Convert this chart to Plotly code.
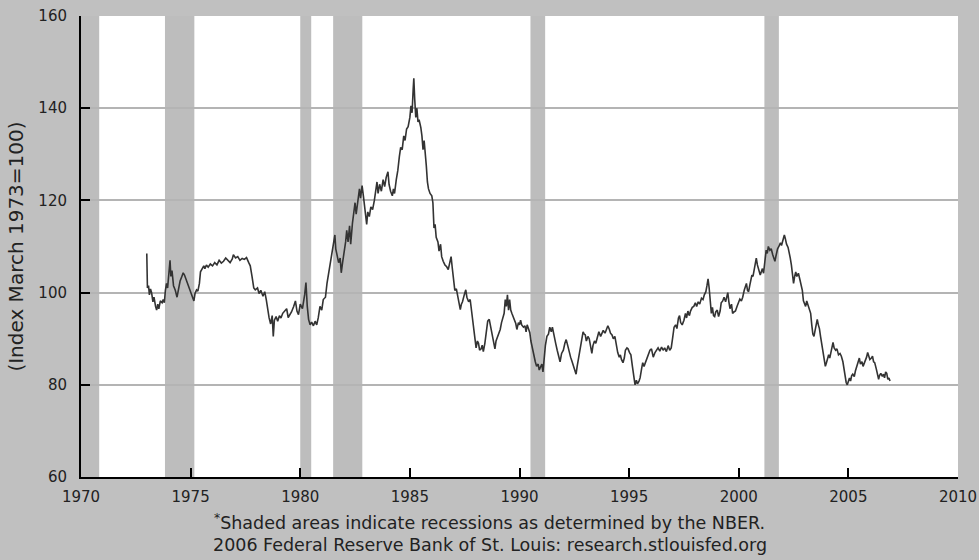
import plotly.graph_objects as go

# ---- data ----
years = [
1973.0,1973.03,1973.08,1973.12,1973.17,1973.22,1973.28,1973.33,1973.4,1973.45,1973.5,1973.55,1973.62,1973.7,1973.75,1973.8,1973.85,1973.9,1973.95,
1974.02,1974.06,1974.1,1974.15,1974.22,1974.3,1974.38,1974.45,1974.52,1974.6,1974.66,1974.72,1974.8,1974.88,1974.95,
1975.02,1975.1,1975.15,1975.2,1975.27,1975.33,1975.4,1975.45,1975.52,1975.6,1975.65,1975.72,1975.8,1975.9,
1976.0,1976.1,1976.2,1976.3,1976.4,1976.5,1976.6,1976.7,1976.8,1976.9,1976.95,
1977.05,1977.15,1977.25,1977.35,1977.45,1977.55,1977.65,1977.72,1977.8,1977.88,1977.95,
1978.05,1978.12,1978.2,1978.3,1978.38,1978.45,1978.5,1978.58,1978.65,1978.72,1978.77,1978.82,1978.9,1978.97,
1979.05,1979.12,1979.2,1979.3,1979.38,1979.45,1979.52,1979.6,1979.7,1979.78,1979.85,1979.92,
1980.0,1980.1,1980.2,1980.26,1980.32,1980.38,1980.45,1980.52,1980.6,1980.68,1980.75,1980.82,1980.9,1980.98,
1981.05,1981.15,1981.22,1981.3,1981.38,1981.45,1981.52,1981.58,1981.62,1981.68,1981.75,1981.82,1981.87,1981.93,
1982.0,1982.07,1982.12,1982.18,1982.25,1982.3,1982.38,1982.45,1982.5,1982.55,1982.62,1982.7,1982.75,1982.82,1982.88,1982.95,
1983.03,1983.08,1983.15,1983.22,1983.3,1983.38,1983.45,1983.5,1983.55,1983.62,1983.7,1983.78,1983.85,1983.92,
1984.0,1984.05,1984.12,1984.2,1984.25,1984.3,1984.38,1984.45,1984.52,1984.58,1984.65,1984.72,1984.78,1984.85,1984.92,
1985.0,1985.05,1985.1,1985.15,1985.18,1985.22,1985.27,1985.32,1985.37,1985.42,1985.5,1985.55,1985.6,1985.65,1985.7,1985.75,1985.8,1985.85,1985.92,
1986.0,1986.05,1986.1,1986.15,1986.2,1986.28,1986.33,1986.4,1986.45,1986.52,1986.6,1986.68,1986.75,1986.82,1986.88,1986.93,
1987.0,1987.05,1987.12,1987.18,1987.25,1987.3,1987.35,1987.4,1987.48,1987.55,1987.6,1987.68,1987.75,1987.82,1987.9,1987.96,
1988.02,1988.08,1988.13,1988.18,1988.25,1988.3,1988.35,1988.42,1988.48,1988.55,1988.62,1988.68,1988.75,1988.82,1988.88,1988.93,
1989.0,1989.05,1989.12,1989.18,1989.25,1989.3,1989.35,1989.4,1989.45,1989.5,1989.55,1989.6,1989.65,1989.72,1989.78,1989.83,1989.88,1989.95,
1990.0,1990.05,1990.1,1990.18,1990.25,1990.3,1990.35,1990.4,1990.47,1990.52,1990.58,1990.65,1990.72,1990.78,1990.85,1990.9,1990.95,
1991.02,1991.07,1991.12,1991.18,1991.25,1991.32,1991.38,1991.45,1991.5,1991.55,1991.6,1991.65,1991.72,1991.78,1991.85,1991.92,
1992.0,1992.07,1992.13,1992.2,1992.27,1992.33,1992.4,1992.45,1992.52,1992.58,1992.63,1992.7,1992.78,1992.83,1992.9,1992.95,
1993.0,1993.05,1993.12,1993.18,1993.25,1993.3,1993.35,1993.42,1993.48,1993.55,1993.62,1993.7,1993.75,1993.82,1993.9,1993.97,
1994.03,1994.1,1994.15,1994.22,1994.28,1994.35,1994.42,1994.48,1994.55,1994.6,1994.65,1994.72,1994.78,1994.83,1994.9,1994.95,
1995.02,1995.08,1995.15,1995.2,1995.27,1995.33,1995.38,1995.45,1995.5,1995.57,1995.62,1995.68,1995.75,1995.82,1995.88,1995.95,
1996.02,1996.1,1996.18,1996.25,1996.32,1996.4,1996.48,1996.55,1996.62,1996.7,1996.78,1996.85,1996.92,1996.98,
1997.05,1997.12,1997.18,1997.25,1997.3,1997.35,1997.42,1997.5,1997.57,1997.62,1997.68,1997.75,1997.8,1997.88,1997.95,
1998.02,1998.08,1998.15,1998.22,1998.3,1998.37,1998.43,1998.5,1998.55,1998.6,1998.65,1998.7,1998.75,1998.8,1998.85,1998.9,1998.95,
1999.02,1999.08,1999.15,1999.2,1999.27,1999.33,1999.4,1999.45,1999.5,1999.55,1999.6,1999.67,1999.72,1999.78,1999.85,1999.92,
2000.0,2000.05,2000.12,2000.18,2000.25,2000.3,2000.35,2000.4,2000.45,2000.5,2000.55,2000.6,2000.65,2000.7,2000.75,2000.8,2000.85,2000.92,2000.98,
2001.03,2001.08,2001.13,2001.2,2001.25,2001.3,2001.35,2001.42,2001.48,2001.55,2001.6,2001.65,2001.7,2001.77,2001.83,2001.9,2001.95,
2002.02,2002.08,2002.12,2002.18,2002.25,2002.3,2002.35,2002.4,2002.45,2002.5,2002.55,2002.6,2002.65,2002.72,2002.78,2002.85,2002.9,2002.95,
2003.0,2003.05,2003.1,2003.15,2003.22,2003.28,2003.33,2003.38,2003.43,2003.48,2003.53,2003.58,2003.63,2003.68,2003.73,2003.78,2003.83,2003.88,2003.95,
2004.0,2004.05,2004.1,2004.15,2004.2,2004.25,2004.3,2004.35,2004.42,2004.48,2004.55,2004.62,2004.68,2004.75,2004.8,2004.85,2004.9,2004.95,
2005.0,2005.05,2005.1,2005.15,2005.2,2005.27,2005.32,2005.38,2005.45,2005.5,2005.55,2005.62,2005.67,2005.72,2005.78,2005.83,2005.88,2005.93,2005.98,
2006.05,2006.1,2006.15,2006.2,2006.27,2006.33,2006.38,2006.42,2006.48,2006.55,2006.6,2006.65,2006.7,2006.75,2006.8,2006.85,2006.9,
]

index_values = [
108.5,101.0,101.5,99.5,100.8,100.0,98.0,99.0,97.0,96.2,97.5,96.5,98.2,97.8,98.5,97.8,100.5,102.0,101.0,
105.0,107.0,103.5,104.8,101.5,100.5,99.0,100.8,102.5,103.5,104.3,103.8,102.8,102.0,101.0,
100.0,98.8,98.2,99.8,100.6,100.3,102.0,104.5,105.3,105.8,105.2,106.0,105.5,106.2,
105.8,106.5,106.0,107.0,106.4,106.8,107.5,107.0,106.5,107.3,108.2,
107.5,107.8,107.0,107.4,107.2,107.6,106.5,105.8,103.5,101.0,100.6,
101.0,99.8,100.5,99.2,100.2,98.5,96.8,94.5,93.2,95.0,90.5,94.0,94.8,93.8,
95.0,94.5,95.5,96.0,96.5,94.6,95.2,95.8,97.0,98.2,96.0,95.2,
97.5,96.5,99.5,102.2,97.0,94.2,93.0,93.6,92.8,93.8,93.0,94.5,97.0,96.2,
98.5,99.0,102.0,104.5,107.0,108.2,110.5,112.5,109.5,108.2,106.5,107.5,104.3,106.5,
108.5,111.0,113.5,111.0,114.5,110.5,115.0,117.5,119.5,117.0,120.0,122.5,120.5,123.2,121.0,117.8,
114.8,117.5,116.5,118.6,118.0,120.0,122.0,124.0,121.5,123.5,122.0,124.5,123.0,125.0,
126.2,123.5,122.0,121.0,122.5,121.5,124.5,126.5,129.5,131.5,131.0,134.0,133.0,135.5,136.0,
138.0,140.5,139.0,144.0,146.5,142.0,138.0,140.0,137.0,137.5,135.8,134.0,131.0,133.0,129.0,127.5,124.0,122.5,121.5,
121.0,119.5,114.0,114.8,112.0,111.0,109.0,110.5,107.8,106.8,106.0,105.6,105.0,106.5,107.8,105.5,
103.0,100.5,100.8,99.0,97.5,96.3,97.5,98.0,99.5,100.6,99.0,98.0,98.5,96.0,92.5,89.8,
88.0,89.5,89.0,87.5,87.8,88.6,87.2,89.0,91.8,93.8,94.2,92.8,91.0,89.0,87.8,89.5,
90.5,91.2,92.0,93.5,94.5,95.5,98.5,97.0,99.5,96.2,98.5,96.2,95.5,94.5,94.0,93.3,92.0,93.5,
93.0,94.0,93.0,92.5,92.8,91.5,93.0,92.0,91.3,89.5,88.0,86.5,85.0,84.0,84.5,83.2,83.8,
84.5,82.8,86.5,88.5,90.5,91.0,92.5,91.5,92.5,91.0,90.2,89.0,87.5,86.0,85.0,86.8,
87.5,89.0,89.8,88.5,87.0,86.0,85.0,84.2,83.5,82.3,84.0,86.0,88.5,90.5,91.5,91.0,
90.8,89.5,90.5,90.0,87.5,86.8,88.5,89.5,89.0,90.5,91.5,90.5,91.0,91.8,91.2,92.3,
92.8,92.0,91.2,90.8,90.0,90.5,88.5,87.0,86.0,86.5,85.5,84.8,85.8,87.5,88.0,87.8,
87.0,86.5,84.0,82.0,80.0,81.0,80.2,80.8,81.5,83.5,84.8,84.0,85.0,85.5,86.5,87.5,
87.8,86.0,87.0,87.5,88.0,87.3,88.2,87.5,88.0,87.2,88.5,87.5,88.0,90.0,
92.5,93.0,92.2,94.5,95.0,93.5,93.0,94.0,95.5,94.5,96.0,95.0,96.0,96.8,97.0,
97.8,97.0,98.0,97.5,98.8,98.5,99.5,100.2,101.5,103.0,101.0,97.5,95.5,96.8,95.0,94.8,95.8,
96.2,94.8,96.0,97.8,98.2,99.0,98.0,99.5,100.0,98.0,96.5,97.5,95.5,95.8,96.0,97.0,
97.8,98.6,98.2,99.0,100.5,101.2,102.0,100.5,100.2,101.5,103.0,103.8,103.5,105.0,106.0,107.5,106.0,104.5,103.8,
104.5,105.2,104.2,107.5,109.2,108.5,110.0,109.2,109.5,108.2,107.5,106.8,108.0,109.5,110.0,110.8,110.2,
111.5,112.5,111.8,110.5,109.8,108.8,107.5,106.0,103.8,102.0,103.5,104.5,103.5,104.2,103.0,101.5,100.5,98.2,
97.5,97.0,98.2,97.5,96.5,95.5,93.0,91.0,90.5,91.8,92.8,94.2,93.0,92.2,90.5,89.0,87.8,85.8,84.0,
84.8,85.8,86.5,85.8,87.0,88.2,89.2,88.0,87.5,87.8,86.5,86.8,86.2,85.0,83.5,81.0,80.5,80.0,
80.8,81.5,80.8,82.0,82.3,81.8,83.0,84.0,85.2,85.8,84.5,85.0,84.0,84.6,85.5,86.0,87.0,86.2,85.5,
85.8,86.2,85.0,84.8,83.5,82.2,81.2,82.0,82.5,81.8,82.3,81.5,82.8,82.5,81.2,81.5,80.8,
]

recession_starts = [1969.92, 1973.83, 1980.0, 1981.5, 1990.5, 2001.17]
recession_ends = [1970.83, 1975.17, 1980.5, 1982.83, 1991.17, 2001.83]

x_range = [1970, 2010]
y_range = [60, 160]
y_title = "(Index March 1973=100)"
note_line1 = "<sup>*</sup>Shaded areas indicate recessions as determined by the NBER."
note_line2 = "2006 Federal Reserve Bank of St. Louis: research.stlouisfed.org"

FONT = "DejaVu Sans"
BG = "#c0c0c0"

fig = go.Figure()
fig.add_trace(go.Scatter(
    x=years, y=index_values, mode="lines",
    line=dict(color="#333333", width=1.6),
    showlegend=False, hoverinfo="skip",
))

for s, e in zip(recession_starts, recession_ends):
    fig.add_shape(type="rect", xref="x", yref="paper",
                  x0=max(s, x_range[0]), x1=min(e, x_range[1]), y0=0, y1=1,
                  fillcolor="#bdbdbd", line=dict(width=0), layer="between")

fig.update_layout(
    width=979, height=560,
    paper_bgcolor=BG, plot_bgcolor="white",
    margin=dict(l=81, r=21, t=16, b=83, autoexpand=False),
    font=dict(family=FONT, size=15, color="#222222"),
    xaxis=dict(range=x_range, dtick=5, tick0=1970, showgrid=False, zeroline=False,
               automargin=False,
               showline=True, linecolor="black", linewidth=2,
               ticks="inside", ticklen=9, tickwidth=2, tickcolor="black",
               ticklabelstandoff=5, tickfont=dict(size=15)),
    yaxis=dict(range=y_range, dtick=20, tick0=60, showgrid=True, gridcolor="#b4b4b4",
               gridwidth=2, zeroline=False, automargin=False,
               showline=True, linecolor="black", linewidth=2,
               ticks="inside", ticklen=9, tickwidth=2, tickcolor="black",
               ticklabelstandoff=9, tickfont=dict(size=15),
               title=dict(text=y_title, font=dict(size=20), standoff=9)),
    annotations=[
        dict(text=note_line1, xref="paper", yref="paper", x=0.4658, y=-0.0976,
             showarrow=False, xanchor="center", yanchor="middle", font=dict(size=17.5)),
        dict(text=note_line2, xref="paper", yref="paper", x=0.4658, y=-0.1475,
             showarrow=False, xanchor="center", yanchor="middle", font=dict(size=17.5)),
    ],
)

fig.write_html("out.html", config={"displayModeBar": False},
               post_script="document.body.style.margin='0';document.body.style.overflow='hidden';")
